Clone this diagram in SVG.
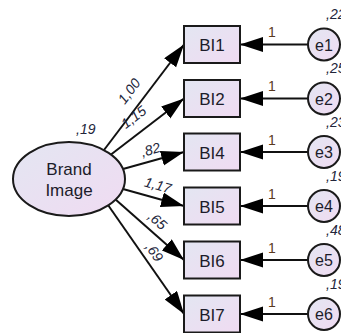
<svg xmlns="http://www.w3.org/2000/svg" width="341" height="333" viewBox="0 0 341 333">
  <style>
    .node { stroke: #1a1a1a; stroke-width: 2; }
    .box { fill: url(#fillGrad); }
    .lat { fill: url(#fillGrad); }
    .name { font-family: "Liberation Sans", Arial, sans-serif; font-size: 17px; fill: #1c1c2a; text-anchor: middle; }
    .ename { font-family: "Liberation Sans", Arial, sans-serif; font-size: 16px; fill: #1c1c2a; text-anchor: middle; }
    .est { font-family: "Liberation Sans", Arial, sans-serif; font-size: 14px; font-style: italic; fill: #22253a; }
    .lbl { text-anchor: middle; }
    .one { font-family: "Liberation Sans", Arial, sans-serif; font-size: 14px; fill: #5a3a1e; }
    .path { stroke: #111; stroke-width: 2; fill: none; marker-end: url(#arrow); }
  </style>
  <defs>
    <linearGradient id="fillGrad" x1="0" y1="0" x2="1" y2="1">
      <stop offset="0" stop-color="#e3e6f2"/>
      <stop offset="1" stop-color="#f0dbf2"/>
    </linearGradient>
    <marker id="arrow" markerWidth="25" markerHeight="16" refX="23" refY="7.5" orient="auto" markerUnits="userSpaceOnUse">
      <path d="M0,0 L23,7.5 L0,15 Z" fill="#000"/>
    </marker>
  </defs>

  <rect width="341" height="333" fill="#ffffff"/>

  <!-- connectors -->
  <g id="connectors">
    <line class="path" x1="104" y1="150" x2="184" y2="44.5"/>
    <line class="path" x1="111" y1="154.5" x2="184" y2="98.5"/>
    <line class="path" x1="123" y1="169" x2="184" y2="152"/>
    <line class="path" x1="123" y1="189" x2="184" y2="206"/>
    <line class="path" x1="115" y1="199" x2="184" y2="260"/>
    <line class="path" x1="108" y1="205" x2="184" y2="314"/>

    <line class="path" x1="308" y1="44.5" x2="240" y2="44.5"/>
    <line class="path" x1="308" y1="98.5" x2="240" y2="98.5"/>
    <line class="path" x1="308" y1="152" x2="240" y2="152"/>
    <line class="path" x1="308" y1="206" x2="240" y2="206"/>
    <line class="path" x1="308" y1="260" x2="240" y2="260"/>
    <line class="path" x1="308" y1="314" x2="240" y2="314"/>

    <!-- loadings -->
    <text class="est lbl" transform="translate(129,91) rotate(-52.8)" y="5">1,00</text>
    <text class="est lbl" transform="translate(133.5,117) rotate(-37.5)" y="5">1,15</text>
    <text class="est lbl" transform="translate(150.5,149.5) rotate(-15.6)" y="5">,82</text>
    <text class="est lbl" transform="translate(158,185) rotate(15.6)" y="5">1,17</text>
    <text class="est lbl" transform="translate(157.5,220.5) rotate(41.5)" y="5">,65</text>
    <text class="est lbl" transform="translate(154.5,252) rotate(55.1)" y="5">,69</text>

    <!-- fixed error paths -->
    <text class="one" x="268" y="37">1</text>
    <text class="one" x="268" y="91">1</text>
    <text class="one" x="268" y="144.5">1</text>
    <text class="one" x="268" y="198.5">1</text>
    <text class="one" x="268" y="252.5">1</text>
    <text class="one" x="268" y="306.5">1</text>
  </g>

  <!-- latent factor -->
  <g id="brand-image">
    <ellipse class="node lat" cx="69" cy="179" rx="56" ry="37"/>
    <text class="name" x="69" y="175">Brand</text>
    <text class="name" x="69" y="196">Image</text>
    <text class="est" x="76" y="134">,19</text>
  </g>

  <!-- indicators -->
  <g id="BI1"><rect class="node box" x="184" y="26" width="56" height="37"/><text class="name" x="212" y="51">BI1</text></g>
  <g id="BI2"><rect class="node box" x="184" y="80" width="56" height="37"/><text class="name" x="212" y="105">BI2</text></g>
  <g id="BI4"><rect class="node box" x="184" y="133.5" width="56" height="37"/><text class="name" x="212" y="158.5">BI4</text></g>
  <g id="BI5"><rect class="node box" x="184" y="187.5" width="56" height="37"/><text class="name" x="212" y="212.5">BI5</text></g>
  <g id="BI6"><rect class="node box" x="184" y="241.5" width="56" height="37"/><text class="name" x="212" y="266.5">BI6</text></g>
  <g id="BI7"><rect class="node box" x="184" y="295.5" width="56" height="37"/><text class="name" x="212" y="320.5">BI7</text></g>

  <!-- error terms; their variance labels run off the right edge -->
  <g id="e1"><circle class="node lat" cx="324" cy="44.5" r="16"/><text class="ename" x="324" y="50.5">e1</text><text class="est" x="326" y="19">,22</text></g>
  <g id="e2"><circle class="node lat" cx="324" cy="98.5" r="16"/><text class="ename" x="324" y="104.5">e2</text><text class="est" x="326" y="73">,25</text></g>
  <g id="e3"><circle class="node lat" cx="324" cy="152" r="16"/><text class="ename" x="324" y="158">e3</text><text class="est" x="326" y="126.5">,23</text></g>
  <g id="e4"><circle class="node lat" cx="324" cy="206" r="16"/><text class="ename" x="324" y="212">e4</text><text class="est" x="326" y="180.5">,19</text></g>
  <g id="e5"><circle class="node lat" cx="324" cy="260" r="16"/><text class="ename" x="324" y="266">e5</text><text class="est" x="326" y="234.5">,48</text></g>
  <g id="e6"><circle class="node lat" cx="324" cy="314" r="16"/><text class="ename" x="324" y="320">e6</text><text class="est" x="326" y="288.5">,19</text></g>
</svg>
